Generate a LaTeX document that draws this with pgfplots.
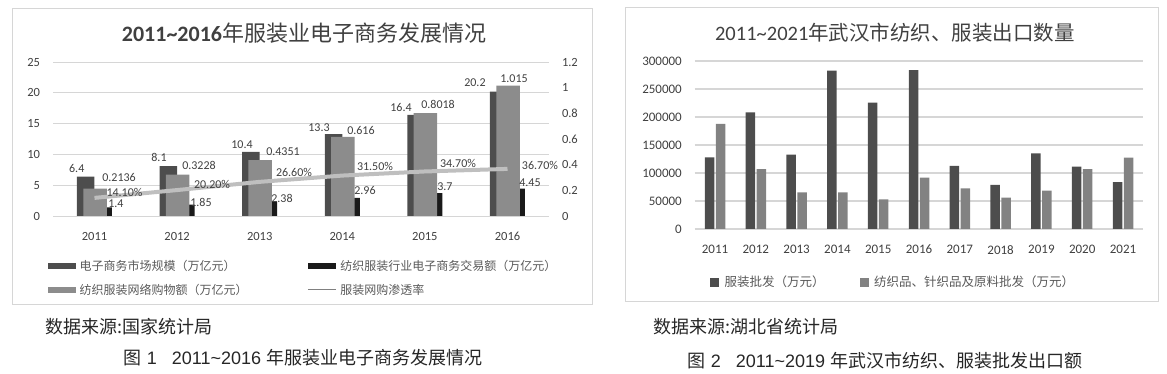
\documentclass[border=0pt]{standalone}
\usepackage{fontspec}
\usepackage{pgfplots}
\pgfplotsset{compat=1.18}
\setmainfont{Carlito}
\newfontfamily\cjk{Noto Sans CJK SC}
\newfontfamily\arial{Liberation Sans}
\definecolor{cDark}{HTML}{4D4D4D}
\definecolor{cGray}{HTML}{8C8C8C}
\definecolor{cBlack}{HTML}{1A1A1A}
\definecolor{cLine}{HTML}{BFBFBF}
\definecolor{cGrid}{HTML}{D6D6D6}
\definecolor{cText}{HTML}{404040}
\definecolor{cLeg}{HTML}{595959}
\definecolor{cR1}{HTML}{4D4D4D}
\definecolor{cR2}{HTML}{828282}
\begin{document}
\begin{tikzpicture}
\useasboundingbox (0pt,0pt) rectangle (1167pt,374pt);
\draw[cGrid, line width=1pt] (12pt,69pt) rectangle (592pt,365pt);
\draw[cGrid, line width=1pt] (625pt,72pt) rectangle (1158pt,366pt);

% ---------- left chart: primary axis ----------
\begin{axis}[
  at={(53.2pt,158pt)}, anchor=south west, scale only axis,
  width=495.6pt, height=154pt,
  xmin=-0.5, xmax=5.5, ymin=0, ymax=25,
  xtick={0,1,2,3,4,5}, xticklabels={2011,2012,2013,2014,2015,2016},
  ytick={0,5,10,15,20,25},
  axis x line*=bottom, axis y line*=left, axis line style={draw=none},
  major tick length=0pt,
  ymajorgrids, grid style={cGrid, line width=0.9pt},
  tick label style={font=\fontsize{12.5}{14}\selectfont, text=cText, inner sep=0pt},
  /pgf/number format/assume math mode=true,
  xticklabel shift=16pt, yticklabel shift=13pt,
  clip=false,
]
\addplot[ybar, bar width=17.5pt, bar shift=-8.75pt, fill=cDark, draw=none]
  coordinates {(0,6.4)(1,8.1)(2,10.4)(3,13.3)(4,16.4)(5,20.2)};
\addplot[ybar, bar width=17.5pt, bar shift=8.75pt, fill=cBlack, draw=none]
  coordinates {(0,1.4)(1,1.85)(2,2.38)(3,2.96)(4,3.7)(5,4.45)};
\end{axis}

% ---------- left chart: secondary axis ----------
\begin{axis}[
  at={(53.2pt,158pt)}, anchor=south west, scale only axis,
  width=495.6pt, height=154pt,
  xmin=-0.5, xmax=5.5, ymin=0, ymax=1.2,
  axis x line=none, axis y line*=right, axis line style={draw=none},
  ytick={0,0.2,0.4,0.6,0.8,1,1.2}, yticklabels={0,0.2,0.4,0.6,0.8,1,1.2},
  major tick length=0pt,
  tick label style={font=\fontsize{12.5}{14}\selectfont, text=cText, inner sep=0pt},
  yticklabel shift=13pt,
  clip=false,
  legend columns=2,
  legend style={at={(-0.0105,-0.4026)}, anchor=west, draw=none, fill=none,
    font=\cjk\fontsize{12}{14}\selectfont, text=cLeg,
    inner sep=0pt, row sep=8pt, column sep=2pt,
    /tikz/column 2/.style={column sep=58pt},
    cells={anchor=west}},
]
\addlegendimage{legend image code/.code={\fill[cDark] (0pt,-2.5pt) rectangle (27pt,2.5pt);}}
\addlegendentry{电子商务市场规模（万亿元）}
\addlegendimage{legend image code/.code={\fill[cBlack] (0pt,-2.5pt) rectangle (27pt,2.5pt);}}
\addlegendentry{纺织服装行业电子商务交易额（万亿元）}
\addlegendimage{legend image code/.code={\fill[cGray] (0pt,-2.5pt) rectangle (27pt,2.5pt);}}
\addlegendentry{纺织服装网络购物额（万亿元）}
\addlegendimage{legend image code/.code={\draw[gray, line width=0.8pt] (0pt,0pt) -- (28pt,0pt);}}
\addlegendentry{服装网购渗透率}
\addplot[ybar, bar width=23.5pt, bar shift=0.5pt, fill=cGray, draw=none, forget plot]
  coordinates {(0,0.2136)(1,0.3228)(2,0.4351)(3,0.616)(4,0.8018)(5,1.015)};
\addplot[cLine, line width=4pt, mark=none, forget plot]
  coordinates {(0,0.141)(1,0.202)(2,0.266)(3,0.315)(4,0.347)(5,0.367)};
\end{axis}

% ---------- left chart: data labels ----------
\begin{axis}[
  at={(53.2pt,158pt)}, anchor=south west, scale only axis,
  width=495.6pt, height=154pt,
  xmin=-0.5, xmax=5.5, ymin=0, ymax=25,
  hide axis, clip=false,
]
\tikzset{lbl/.style={font=\fontsize{12}{14}\selectfont, text=cText, inner sep=0pt}}
\node[lbl] at (axis cs:-0.215,7.79) {6.4};
\node[lbl] at (axis cs:0.297,6.33) {0.2136};
\node[lbl] at (axis cs:0.363,3.90) {14.10\%};
\node[lbl] at (axis cs:0.260,1.95) {1.4};
\node[lbl] at (axis cs:0.781,9.58) {8.1};
\node[lbl] at (axis cs:1.265,8.28) {0.3228};
\node[lbl] at (axis cs:1.423,5.19) {20.20\%};
\node[lbl] at (axis cs:1.289,2.27) {1.85};
\node[lbl] at (axis cs:1.786,11.53) {10.4};
\node[lbl] at (axis cs:2.282,10.39) {0.4351};
\node[lbl] at (axis cs:2.415,7.14) {26.60\%};
\node[lbl] at (axis cs:2.270,2.92) {2.38};
\node[lbl] at (axis cs:2.718,14.29) {13.3};
\node[lbl] at (axis cs:3.226,13.96) {0.616};
\node[lbl] at (axis cs:3.396,8.12) {31.50\%};
\node[lbl] at (axis cs:3.275,4.06) {2.96};
\node[lbl] at (axis cs:3.711,17.69) {16.4};
\node[lbl] at (axis cs:4.159,18.18) {0.8018};
\node[lbl] at (axis cs:4.401,8.60) {34.70\%};
\node[lbl] at (axis cs:4.243,4.71) {3.7};
\node[lbl] at (axis cs:4.606,21.59) {20.2};
\node[lbl] at (axis cs:5.079,22.24) {1.015};
\node[lbl] at (axis cs:5.393,8.28) {36.70\%};
\node[lbl] at (axis cs:5.272,5.36) {4.45};
\end{axis}

% ---------- right chart ----------
\begin{axis}[
  at={(694.6pt,145pt)}, anchor=south west, scale only axis,
  width=448.8pt, height=168pt,
  xmin=-0.5, xmax=10.5, ymin=0, ymax=300000,
  xtick={0,1,2,3,4,5,6,7,8,9,10},
  xticklabels={2011,2012,2013,2014,2015,2016,2017,2018,2019,2020,2021},
  ytick={0,50000,100000,150000,200000,250000,300000},
  yticklabels={0,50000,100000,150000,200000,250000,300000},
  scaled y ticks=false,
  axis x line*=bottom, axis y line*=left, axis line style={draw=none},
  major tick length=0pt,
  ymajorgrids, grid style={cGrid, line width=1.6pt},
  tick label style={font=\fontsize{13}{15}\selectfont, text=cText, inner sep=0pt},
  xticklabel shift=16pt, yticklabel shift=12.6pt,
  clip=false,
  legend columns=2,
  legend style={at={(0.0343,-0.3155)}, anchor=west, draw=none, fill=none,
    font=\cjk\fontsize{12.5}{14}\selectfont, text=cLeg,
    inner sep=0pt, column sep=4pt,
    /tikz/column 2/.style={column sep=33pt},
    cells={anchor=west}},
]
\addlegendimage{legend image code/.code={\fill[cR1] (0pt,-4pt) rectangle (8pt,4pt);}}
\addlegendentry{服装批发（万元）}
\addlegendimage{legend image code/.code={\fill[cR2] (0pt,-4pt) rectangle (8pt,4pt);}}
\addlegendentry{纺织品、针织品及原料批发（万元）}
\addplot[ybar, bar width=9.5pt, bar shift=-5.5pt, fill=cR1, draw=none, forget plot]
  coordinates {(0,128000)(1,208400)(2,132700)(3,282700)(4,225600)(5,283900)(6,112500)(7,78600)(8,135100)(9,111300)(10,83900)};
\addplot[ybar, bar width=9.5pt, bar shift=5.5pt, fill=cR2, draw=none, forget plot]
  coordinates {(0,187500)(1,107100)(2,65500)(3,65500)(4,53000)(5,91600)(6,72600)(7,55900)(8,68400)(9,107100)(10,127300)};
\end{axis}

% ---------- titles and captions ----------
\node[text=cText, inner sep=0pt] at (304pt,341pt)
  {\fontsize{22}{26}\selectfont\bfseries 2011\textasciitilde 2016{\cjk\mdseries 年服装业电子商务发展情况}};
\node[text=cText, inner sep=0pt] at (895pt,341pt)
  {\fontsize{20.5}{24}\selectfont 2011\textasciitilde 2021{\cjk 年武汉市纺织、服装出口数量}};
\node[anchor=west, text=black!85, inner sep=0pt] at (45pt,47pt)
  {\cjk\fontsize{18}{20}\selectfont 数据来源:国家统计局};
\node[anchor=west, text=black!85, inner sep=0pt] at (653pt,47pt)
  {\cjk\fontsize{18}{20}\selectfont 数据来源:湖北省统计局};
\node[text=black!85, inner sep=0pt] at (303pt,16pt)
  {\fontsize{18}{20}\selectfont{\cjk 图}{\arial\ 1\ \ \ 2011\textasciitilde 2016 }{\cjk 年服装业电子商务发展情况}};
\node[text=black!85, inner sep=0pt] at (885pt,13pt)
  {\fontsize{18}{20}\selectfont{\cjk 图}{\arial\ 2\ \ \ 2011\textasciitilde 2019 }{\cjk 年武汉市纺织、服装批发出口额}};
\end{tikzpicture}
\end{document}
